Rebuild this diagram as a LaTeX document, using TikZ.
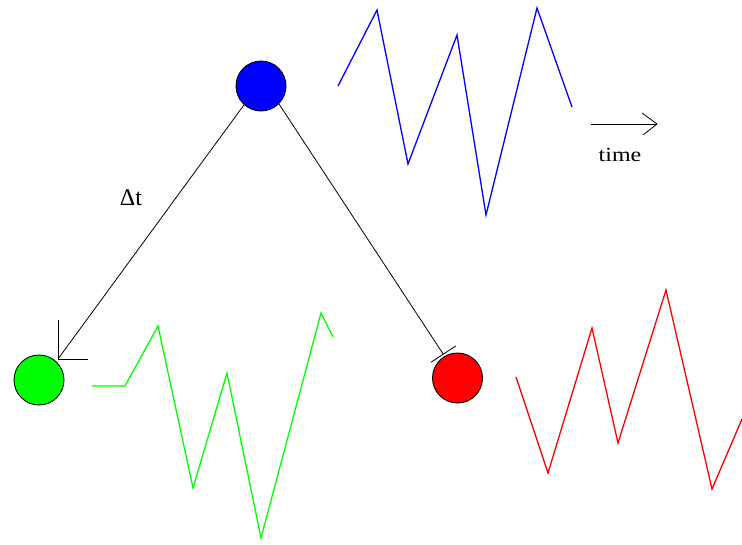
\documentclass[tikz,border=0pt]{standalone}
\usepackage{fontspec}
\setmainfont{Liberation Serif}
\usetikzlibrary{arrows.meta}
\definecolor{pblue}{RGB}{0,0,255}
\definecolor{pgreen}{RGB}{0,255,0}
\definecolor{pred}{RGB}{255,0,0}
\begin{document}
\begin{tikzpicture}[x=1pt,y=-1pt,
  ball/.style={circle,draw=black,line width=0.9pt,minimum size=50pt,inner sep=0pt},
  conn/.style={draw=black,line width=0.8pt},
  wave/.style={line width=1.3pt,line join=miter},
  lbl/.style={font=\fontsize{20}{20}\selectfont,inner sep=0pt}]
\useasboundingbox (0,0) rectangle (742,544);
% balls
\node[ball,fill=pblue] (blue) at (261,86) {};
\node[ball,fill=pgreen] (green) at (39,380) {};
\node[ball,fill=pred] (red) at (457.5,378) {};
% tips
\coordinate (gtip) at (58,359);
\coordinate (rtip) at (443.5,354.5);
% connectors
\draw[conn] (blue.-132) -- (gtip);
\draw[conn] (gtip) -- ++(0,-39);
\draw[conn] (gtip) -- ++(30,0);
\draw[conn,-{Bar[width=30pt,line width=0.8pt]}] (blue.-45) -- (rtip);
% labels
\node[lbl,font=\fontsize{24}{24}\selectfont] (dt) at (131,198) {Δt};
\coordinate (ta) at (591,124);
\coordinate (tb) at (657,124);
\draw[conn] (ta) -- (tb);
\draw[conn] (642,113) -- (tb) -- (643,135);
\node[lbl,xscale=1.2] (time) at (620,155) {time};
% waves
\draw[wave,draw=pblue] (338,86) -- (377,10) -- (408,164) -- (457,35) -- (486,215) -- (537,8) -- (572,107);
\draw[wave,draw=pgreen] (92,386) -- (125,386) -- (158,326) -- (193,488) -- (227,373) -- (261,538) -- (321,313) -- (333,337);
\draw[wave,draw=pred] (516,377) -- (548,473) -- (592,328) -- (618,443) -- (666,290) -- (712,489) -- (742,419);
\end{tikzpicture}
\end{document}
